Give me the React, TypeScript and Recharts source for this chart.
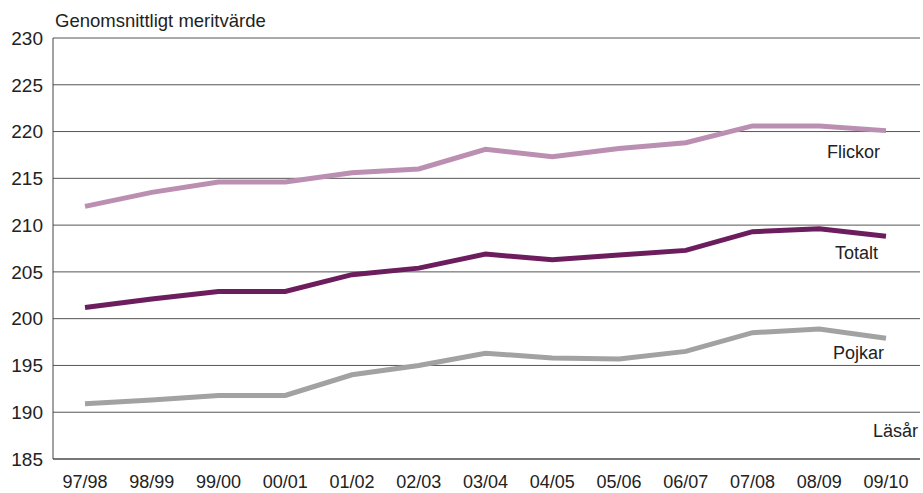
import { LineChart, Line, XAxis, YAxis, CartesianGrid } from 'recharts';

const years = ['97/98', '98/99', '99/00', '00/01', '01/02', '02/03', '03/04', '04/05', '05/06', '06/07', '07/08', '08/09', '09/10'];
const flickor = [212.0, 213.5, 214.6, 214.6, 215.6, 216.0, 218.1, 217.3, 218.2, 218.8, 220.6, 220.6, 220.1];
const totalt = [201.2, 202.1, 202.9, 202.9, 204.7, 205.4, 206.9, 206.3, 206.8, 207.3, 209.3, 209.6, 208.8];
const pojkar = [190.9, 191.3, 191.8, 191.8, 194.0, 195.0, 196.3, 195.8, 195.7, 196.5, 198.5, 198.9, 197.9];
const yTicks = [185, 190, 195, 200, 205, 210, 215, 220, 225, 230];

const data = years.map((y, i) => ({ year: y, flickor: flickor[i], totalt: totalt[i], pojkar: pojkar[i] }));

const font = '"Liberation Sans", Arial, sans-serif';

const tag = (text: string, left: number, top: number, size = 18) => (
  <div style={{ position: 'absolute', left, top, fontSize: size, fontFamily: font, color: '#222', whiteSpace: 'nowrap' }}>
    {text}
  </div>
);

export default function App() {
  return (
    <div style={{ position: 'absolute', left: 0, top: 0, width: 923, height: 493, background: '#fff' }}>
      <LineChart width={923} height={493} data={data} margin={{ top: 38, right: 3, bottom: 4, left: 0 }}>
        <CartesianGrid vertical={false} stroke="#555" strokeWidth={1} />
        <XAxis
          dataKey="year"
          padding={{ left: 32, right: 34 }}
          tickLine={false}
          axisLine={{ stroke: '#444' }}
          tick={{ fontSize: 18, fill: '#222', fontFamily: font }}
          tickMargin={10}
          height={30}
          interval={0}
        />
        <YAxis
          domain={[185, 230]}
          ticks={yTicks}
          width={53}
          tickLine={false}
          axisLine={{ stroke: '#444' }}
          tick={{ fontSize: 19, fill: '#222', fontFamily: font }}
          tickMargin={4}
        />
        <Line dataKey="flickor" stroke="#bb8fb2" strokeWidth={5} dot={false} isAnimationActive={false} />
        <Line dataKey="totalt" stroke="#6c1d5e" strokeWidth={5} dot={false} isAnimationActive={false} />
        <Line dataKey="pojkar" stroke="#a2a2a2" strokeWidth={5} dot={false} isAnimationActive={false} />
      </LineChart>
      {tag('Genomsnittligt meritvärde', 55, 10, 18.5)}
      {tag('Flickor', 827, 142)}
      {tag('Totalt', 835, 243)}
      {tag('Pojkar', 833, 343)}
      {tag('Läsår', 873, 421)}
    </div>
  );
}
